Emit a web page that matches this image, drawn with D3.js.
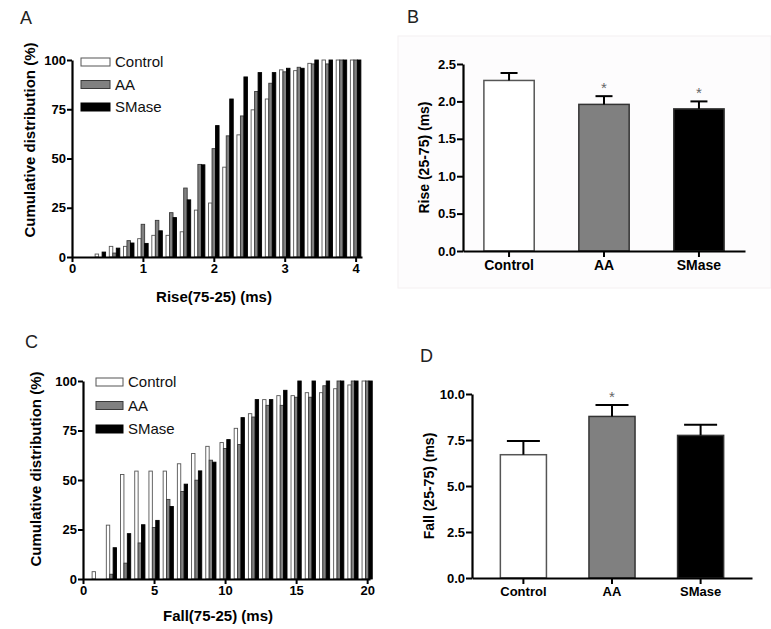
<!DOCTYPE html>
<html lang="en">
<head>
<meta charset="UTF-8">
<title>Rise and fall distributions</title>
<script src="https://cdn.jsdelivr.net/npm/d3@7"></script>
<style>
  body { margin: 0; background: #fff; }
  text { font-family: "Liberation Sans", Arial, sans-serif; }
</style>
</head>
<body>
<script>
    var w = 771, h = 629;

    var groups = ["Control", "AA", "SMase"];
    var fills = ["#ffffff", "#808080", "#000000"];
    var strokes = ["#555555", "#3a3a3a", "#000000"];

    // panel A: cumulative distribution of rise time (bins of 0.2 ms)
    var riseBins = [0.4, 0.6, 0.8, 1.0, 1.2, 1.4, 1.6, 1.8, 2.0, 2.2, 2.4, 2.6, 2.8, 3.0, 3.2, 3.4, 3.6, 3.8, 4.0];
    var riseControl = [1.5, 5.4, 5.4, 9.3, 11, 11, 12.8, 23.8, 27.4, 45.6, 62, 74.7, 80.2, 95, 94.6, 98.3, 100, 100, 100];
    var riseAA = [0, 2, 8.3, 16.6, 18.6, 22.5, 35, 47, 55, 61.5, 71.6, 84, 88.2, 94, 96.3, 98, 98, 100, 100];
    var riseSMase = [2.5, 4.5, 7.1, 6.9, 13.3, 20, 29, 46.8, 66.7, 80.2, 91.4, 93.6, 93.6, 95.8, 95.8, 100, 100, 100, 100];

    // panel C: cumulative distribution of fall time (bins of 1 ms)
    var fallBins = [1, 2, 3, 4, 5, 6, 7, 8, 9, 10, 11, 12, 13, 14, 15, 16, 17, 18, 19, 20];
    var fallControl = [3.7, 27.2, 52.8, 54.5, 54.5, 54.5, 58.2, 63.4, 67, 68.9, 76.1, 83.5, 90.6, 92.6, 92.6, 94.1, 94.1, 96.1, 98, 100];
    var fallAA = [0, 2.4, 8, 18.2, 26, 40.2, 44.2, 49.9, 60, 65.9, 67.9, 81.8, 87.7, 87.7, 91.8, 91.8, 97.6, 100, 100, 100];
    var fallSMase = [0, 15.8, 22.9, 27.4, 29.6, 36.6, 47.9, 54.6, 59, 70.4, 81.5, 90.6, 90.6, 95.3, 100, 100, 100, 100, 100, 100];
    var cumTicks = [0, 25, 50, 75, 100];

    // panels B and D: mean +/- SEM
    var riseMean = [2.28, 1.96, 1.90];
    var riseErr = [0.10, 0.11, 0.10];
    var riseStar = [false, true, true];
    var fallMean = [6.70, 8.78, 7.75];
    var fallErr = [0.74, 0.62, 0.58];
    var fallStar = [false, true, false];

    var svg = d3.select("body")
        .append("svg")
        .attr("width", w)
        .attr("height", h);

    // faint panel background from the scanned figure
    svg.append("rect").attr("x", 398).attr("y", 36).attr("width", 373).attr("height", 252)
        .attr("fill", "#fdfcfd").attr("stroke", "#f4f0f1").attr("stroke-width", 1);

    function styleAxis(g, size) {
        g.select(".domain").attr("stroke", "#000").attr("stroke-width", 2.2);
        g.selectAll(".tick line").attr("stroke", "#000").attr("stroke-width", 2);
        g.selectAll(".tick text").attr("font-size", size + "px").attr("font-weight", "bold")
            .attr("fill", "#000").style("font-family", "'Liberation Sans', Arial, sans-serif");
    }

    function panelLabel(t, x, y) {
        svg.append("text").attr("x", x).attr("y", y).attr("font-size", "18px")
            .attr("fill", "#222").text(t);
    }

    function histogram(opt) {
        var x = d3.scaleLinear().domain(opt.xDomain).range(opt.xRange);
        var y = d3.scaleLinear().domain([0, 100]).range(opt.yRange);
        var g = svg.append("g");
        var barW = opt.barW;
        var series = [opt.control, opt.aa, opt.smase];

        series.forEach(function (vals, s) {
            g.selectAll(null)
                .data(opt.bins.map(function (b, i) { return [b, vals[i]]; }).filter(function (d) { return d[1] > 0; }))
                .enter()
                .append("rect")
                .attr("x", function (d) { return x(d[0]) + (s - 1.5) * barW; })
                .attr("y", function (d) { return y(d[1]); })
                .attr("width", barW)
                .attr("height", function (d) { return y(0) - y(d[1]); })
                .attr("fill", fills[s])
                .attr("stroke", strokes[s])
                .attr("stroke-width", 0.9);
        });

        var ya = g.append("g")
            .attr("transform", "translate(" + opt.xRange[0] + ",0)")
            .call(d3.axisLeft(y).tickValues(cumTicks).tickSize(5).tickSizeOuter(0).tickPadding(1));
        styleAxis(ya, 13);

        var xa = g.append("g")
            .attr("transform", "translate(0," + opt.yRange[0] + ")")
            .call(d3.axisBottom(x).tickValues(opt.xTicks).tickFormat(d3.format("d"))
                .tickSize(5).tickSizeOuter(0).tickPadding(2));
        styleAxis(xa, 13);

        g.append("text")
            .attr("transform", "translate(" + opt.yLabelX + "," + opt.yLabelY + ") rotate(-90)")
            .attr("text-anchor", "middle")
            .attr("font-size", "15px").attr("font-weight", "bold")
            .text("Cumulative distribution (%)");

        g.append("text")
            .attr("x", opt.xLabelPos[0]).attr("y", opt.xLabelPos[1])
            .attr("text-anchor", "middle")
            .attr("font-size", "15px").attr("font-weight", "bold")
            .text(opt.xLabel);

        // legend
        groups.forEach(function (name, i) {
            var ly = opt.legend[1] + i * opt.legendStep;
            g.append("rect")
                .attr("x", opt.legend[0]).attr("y", ly)
                .attr("width", opt.legendW).attr("height", 8)
                .attr("fill", fills[i]).attr("stroke", strokes[i]).attr("stroke-width", 1);
            g.append("text")
                .attr("x", opt.legend[0] + opt.legendW + 5).attr("y", ly + 9)
                .attr("font-size", "15px").attr("fill", "#111")
                .text(name);
        });
    }

    function meanBars(opt) {
        var x = d3.scaleBand().domain(groups).range(opt.xRange).paddingInner(opt.pad).paddingOuter(opt.padOuter);
        var y = d3.scaleLinear().domain([0, opt.yMax]).range(opt.yRange);
        var g = svg.append("g");

        g.selectAll(null)
            .data(groups)
            .enter()
            .append("rect")
            .attr("x", function (d) { return x(d); })
            .attr("y", function (d, i) { return y(opt.mean[i]); })
            .attr("width", x.bandwidth())
            .attr("height", function (d, i) { return y(0) - y(opt.mean[i]); })
            .attr("fill", function (d, i) { return fills[i]; })
            .attr("stroke", function (d, i) { return i === 0 ? "#555" : "#333"; })
            .attr("stroke-width", 1.5);

        groups.forEach(function (d, i) {
            var cx = x(d) + x.bandwidth() / 2;
            var top = y(opt.mean[i] + opt.err[i]);
            g.append("line").attr("x1", cx).attr("x2", cx)
                .attr("y1", y(opt.mean[i])).attr("y2", top)
                .attr("stroke", "#000").attr("stroke-width", 2);
            g.append("line").attr("x1", cx - opt.cap / 2).attr("x2", cx + opt.cap / 2)
                .attr("y1", top).attr("y2", top)
                .attr("stroke", "#000").attr("stroke-width", 2);
            if (opt.star[i]) {
                g.append("text").attr("x", cx).attr("y", top - 3)
                    .attr("text-anchor", "middle").attr("font-size", "15px")
                    .attr("fill", "#666").text("*");
            }
        });

        var ya = g.append("g")
            .attr("transform", "translate(" + opt.xRange[0] + ",0)")
            .call(d3.axisLeft(y).tickValues(opt.ticks).tickFormat(d3.format(".1f")).tickSize(6).tickSizeOuter(0).tickPadding(1));
        styleAxis(ya, 13);

        var xa = g.append("g")
            .attr("transform", "translate(0," + opt.yRange[0] + ")")
            .call(d3.axisBottom(x).tickSize(6).tickSizeOuter(0).tickPadding(3));
        styleAxis(xa, opt.catSize);

        g.append("text")
            .attr("transform", "translate(" + opt.yLabelX + "," + (opt.yRange[0] + opt.yRange[1]) / 2 + ") rotate(-90)")
            .attr("text-anchor", "middle")
            .attr("font-size", "14px").attr("font-weight", "bold")
            .text(opt.yLabel);
    }

    histogram({
        bins: riseBins, control: riseControl, aa: riseAA, smase: riseSMase,
        xDomain: [0, 4.09], xRange: [72, 362], yRange: [257, 60],
        xTicks: [0, 1, 2, 3, 4], barW: 3.5,
        yLabelX: 35, yLabelY: 140, xLabel: "Rise(75-25) (ms)", xLabelPos: [214, 302],
        legend: [81, 58], legendStep: 22.5, legendW: 29
    });

    histogram({
        bins: fallBins, control: fallControl, aa: fallAA, smase: fallSMase,
        xDomain: [0, 20.2], xRange: [83, 370], yRange: [579, 381],
        xTicks: [0, 5, 10, 15, 20], barW: 3.4,
        yLabelX: 41, yLabelY: 469, xLabel: "Fall(75-25) (ms)", xLabelPos: [218, 621],
        legend: [96, 378], legendStep: 23.5, legendW: 27
    });

    meanBars({
        mean: riseMean, err: riseErr, star: riseStar,
        xRange: [463, 745], yRange: [251, 64], yMax: 2.5,
        ticks: [0, 0.5, 1, 1.5, 2, 2.5], pad: 0.47, padOuter: 0.22,
        cap: 17, catSize: 14, yLabelX: 429, yLabel: "Rise (25-75) (ms)"
    });

    meanBars({
        mean: fallMean, err: fallErr, star: fallStar,
        xRange: [472, 752], yRange: [578, 394], yMax: 10,
        ticks: [0, 2.5, 5, 7.5, 10], pad: 0.48, padOuter: 0.32,
        cap: 33, catSize: 13, yLabelX: 434, yLabel: "Fall (25-75) (ms)"
    });

    panelLabel("A", 20, 24);
    panelLabel("B", 407, 23);
    panelLabel("C", 25, 348);
    panelLabel("D", 420, 362);
</script>
</body>
</html>
